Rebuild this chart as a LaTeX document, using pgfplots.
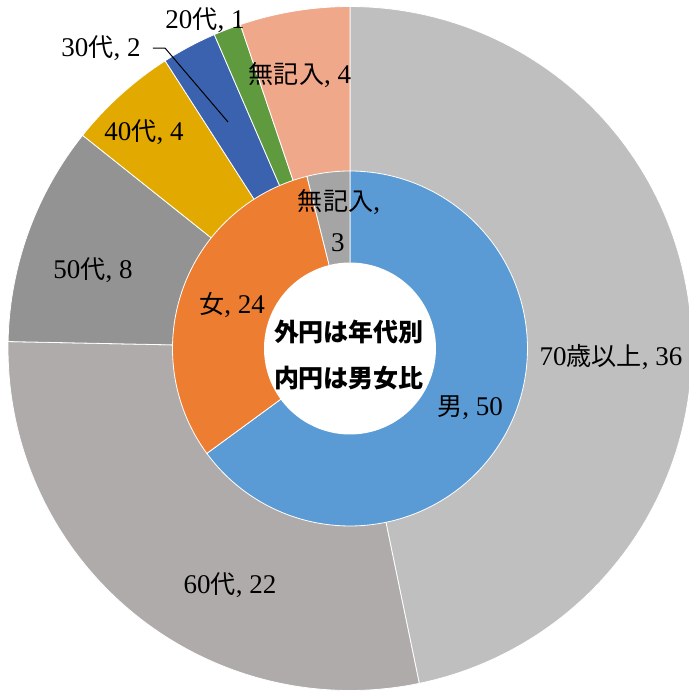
\documentclass[border=0pt]{standalone}
\usepackage{pgfplots}
\usepackage{pgfplotstable}
\pgfplotsset{compat=1.18}
\usepackage{fontspec}
\setmainfont{Liberation Serif}
\newfontfamily\cjk{Noto Sans CJK JP}[Scale=0.93]
\newfontfamily\cjkb{Noto Sans CJK JP}
\definecolor{c70}{HTML}{BFBFBF}
\definecolor{c60}{HTML}{AFABAB}
\definecolor{c50}{HTML}{939393}
\definecolor{c40}{HTML}{E2A900}
\definecolor{c30}{HTML}{3A62AE}
\definecolor{c20}{HTML}{5F9B3E}
\definecolor{cna}{HTML}{F0A88A}
\definecolor{cm}{HTML}{5B9BD5}
\definecolor{cf}{HTML}{ED7D31}
\definecolor{cn}{HTML}{A5A5A5}
\pgfplotstableread{
value color
36 c70
22 c60
8 c50
4 c40
2 c30
1 c20
4 cna
}\outerring
\pgfplotstableread{
value color
50 cm
24 cf
3 cn
}\innerring
\newcommand\ring[4]{%
  \gdef\cum{0}%
  \pgfplotsforeachungrouped \i in {0,...,#4}{%
    \pgfplotstablegetelem{\i}{value}\of#1\let\myv\pgfplotsretval
    \pgfplotstablegetelem{\i}{color}\of#1\let\myc\pgfplotsretval
    \pgfmathsetmacro\aa{90-(\cum+\myv)/#3*360}%
    \pgfmathsetmacro\bb{90-\cum/#3*360}%
    \edef\temp{\noexpand\addplot[fill=\myc, draw=white, line width=0.4pt, domain=\aa:\bb, samples=120] ({350+#2*cos(x)},{344.5+#2*sin(x)}) -- (350,344.5) -- cycle;}%
    \temp
    \pgfmathsetmacro\cum{\cum+\myv}%
  }%
}
\newcommand\lab[3]{\node[font=\fontsize{13.5}{15}\selectfont, inner sep=0pt, anchor=center] at (axis cs:#1,#2) {#3};}
\begin{document}
\begin{tikzpicture}
\begin{axis}[name=ax, width=344.5pt, height=346.5pt, scale only axis, hide axis,
  xmin=0, xmax=689, ymin=0, ymax=693, clip mode=individual]
\ring{\outerring}{342}{77}{6}
\ring{\innerring}{177.5}{77}{2}
\addplot[fill=white, draw=none, domain=0:360, samples=120] ({350+86*cos(x)},{344.5+86*sin(x)}) -- cycle;
\lab{300}{618}{{\cjk 無記入}, 4}
\lab{205}{673}{20{\cjk 代}, 1}
\lab{101}{645}{30{\cjk 代}, 2}
\lab{144}{561}{40{\cjk 代}, 4}
\lab{93}{423}{50{\cjk 代}, 8}
\lab{230}{108}{60{\cjk 代}, 22}
\lab{611}{336}{70{\cjk 歳以上}, 36}
\lab{470}{285}{{\cjk 男}, 50}
\lab{232}{388}{{\cjk 女}, 24}
\lab{339}{491}{{\cjk 無記入},}
\lab{338}{450}{3}
\node[font=\fontsize{12.5}{15}\selectfont\cjkb\bfseries, inner sep=0pt] at (axis cs:349,361) {外円は年代別};
\node[font=\fontsize{12.5}{15}\selectfont\cjkb\bfseries, inner sep=0pt] at (axis cs:349,315) {内円は男女比};
\draw[black, line width=0.5pt] (axis cs:153,645) -- (axis cs:165,645) -- (axis cs:228,571);
\end{axis}
\pgfresetboundingbox
\useasboundingbox (ax.south west) rectangle (ax.north east);
\end{tikzpicture}
\end{document}
